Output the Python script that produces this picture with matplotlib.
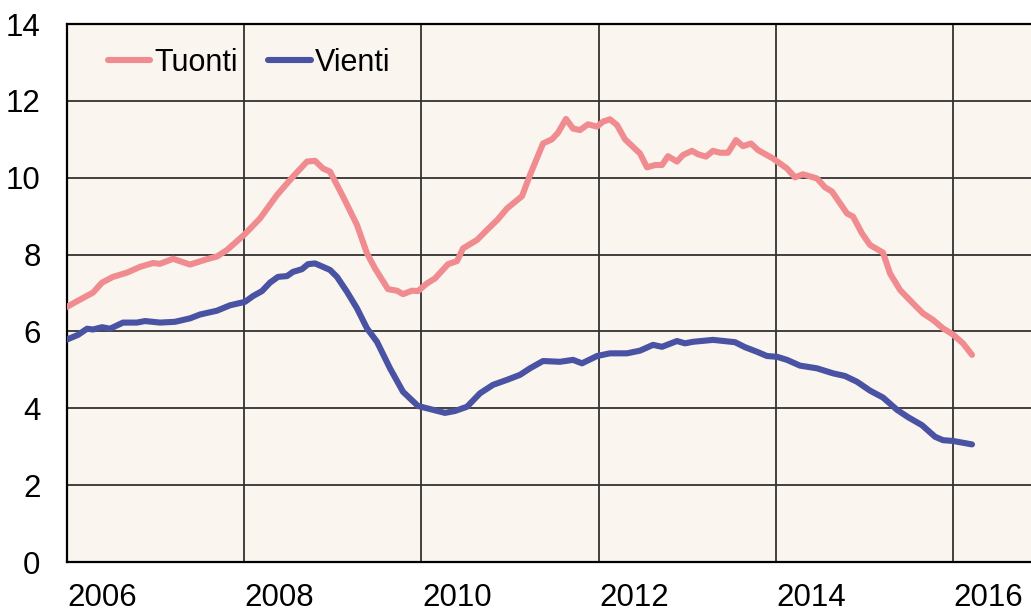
import matplotlib
matplotlib.use("Agg")
import matplotlib.pyplot as plt

plt.rcParams['font.family'] = ['Liberation Sans', 'DejaVu Sans']

# pixel-read x positions converted to decimal years
tuonti_x_px = [67, 78, 93, 102, 113, 127, 140, 153, 160, 173, 190, 207, 217, 227, 244, 260, 277, 293,
               307, 315, 323, 330, 343, 357, 367, 375, 388, 397, 403, 412, 418, 427, 435, 448,
               457, 463, 477, 487, 498, 507, 522, 530, 543, 552, 558, 566, 573, 580, 588, 597,
               603, 610, 617, 625, 640, 647, 655, 662, 668, 677, 683, 692, 698, 706, 713, 720,
               728, 736, 743, 751, 758, 773, 787, 795, 803, 817, 825, 832, 847, 853, 862, 870,
               883, 890, 900, 913, 923, 933, 943, 953, 963, 972]
tuonti = [6.64, 6.80, 7.01, 7.27, 7.42, 7.53, 7.68, 7.78, 7.76, 7.89, 7.74, 7.88, 7.95, 8.12, 8.51, 8.94,
          9.55, 10.03, 10.42, 10.44, 10.24, 10.16, 9.51, 8.77, 8.03, 7.64, 7.10, 7.06, 6.97, 7.06,
          7.05, 7.25, 7.38, 7.75, 7.83, 8.16, 8.38, 8.64, 8.92, 9.20, 9.52, 10.07, 10.89, 11.00,
          11.17, 11.53, 11.28, 11.24, 11.39, 11.33, 11.46, 11.52, 11.37, 11.00, 10.63, 10.27,
          10.33, 10.33, 10.56, 10.42, 10.59, 10.70, 10.61, 10.55, 10.70, 10.65, 10.65, 10.98,
          10.82, 10.89, 10.72, 10.50, 10.24, 10.01, 10.09, 9.98, 9.75, 9.64, 9.07, 8.99, 8.55,
          8.25, 8.05, 7.51, 7.08, 6.73, 6.47, 6.30, 6.08, 5.92, 5.69, 5.39]

vienti_x_px = [67, 78, 87, 93, 102, 110, 123, 137, 145, 160, 175, 190, 200, 217, 230, 245, 253, 262,
               270, 278, 287, 293, 302, 308, 315, 323, 330, 337, 347, 357, 367, 377, 390, 403,
               418, 430, 445, 455, 467, 480, 493, 507, 520, 530, 543, 560, 573, 582, 597, 610,
               627, 640, 653, 662, 677, 685, 693, 713, 735, 745, 757, 767, 777, 787, 800, 817,
               833, 845, 857, 870, 883, 897, 908, 922, 935, 943, 953, 972]
vienti = [5.79, 5.91, 6.07, 6.05, 6.11, 6.07, 6.23, 6.23, 6.27, 6.23, 6.25, 6.34, 6.44, 6.54, 6.68,
          6.77, 6.92, 7.05, 7.27, 7.42, 7.44, 7.55, 7.62, 7.75, 7.77, 7.68, 7.60, 7.42, 7.03, 6.60,
          6.08, 5.73, 5.04, 4.43, 4.06, 3.98, 3.88, 3.93, 4.04, 4.39, 4.61, 4.74, 4.87, 5.04, 5.23,
          5.21, 5.26, 5.17, 5.36, 5.43, 5.43, 5.50, 5.65, 5.60, 5.75, 5.69, 5.73, 5.78, 5.72, 5.59,
          5.47, 5.36, 5.34, 5.26, 5.11, 5.04, 4.91, 4.84, 4.69, 4.46, 4.28, 3.96, 3.77, 3.56, 3.26,
          3.17, 3.15, 3.06]

years = [2006, 2008, 2010, 2012, 2014, 2016]
yticks = [0, 2, 4, 6, 8, 10, 12, 14]

PX_PER_YEAR = 88.6
def to_year(px):
    return [2006 + (p - 67) / PX_PER_YEAR for p in px]

fig = plt.figure(figsize=(10.31, 6.11), dpi=100)
ax = fig.add_axes([67/1031, 1 - 562/611, 1 - 67/1031, (562 - 24)/611])
ax.set_facecolor('#FAF5EF')

for yv in yticks[1:]:
    ax.axhline(yv, color='#222222', lw=1.2, zorder=1)
for yr in years[1:]:
    ax.axvline(yr, color='#333333', lw=1.3, zorder=1)

ax.plot(to_year(tuonti_x_px), tuonti, color='#F08C90', lw=4.4, label='Tuonti',
        solid_capstyle='round', solid_joinstyle='round', zorder=3)
ax.plot(to_year(vienti_x_px), vienti, color='#4A53A3', lw=4.4, label='Vienti',
        solid_capstyle='round', solid_joinstyle='round', zorder=3)

ax.set_xlim(2006, 2006 + (1031 - 67) / PX_PER_YEAR)
ax.set_ylim(0, 14)
ax.set_yticks(yticks)
ax.set_yticklabels([str(v) for v in yticks])
ax.set_xticks([y + 0.4 for y in years])
ax.set_xticklabels([str(y) for y in years])
ax.tick_params(axis='both', length=0, labelsize=22.5)
ax.tick_params(axis='y', pad=19)
ax.tick_params(axis='x', pad=15)

for s in ['left', 'bottom', 'top']:
    ax.spines[s].set_color('black')
    ax.spines[s].set_linewidth(1.6)
ax.spines['right'].set_visible(False)

leg = ax.legend(loc='upper left', ncol=2, frameon=False, fontsize=22,
                handlelength=1.38, handletextpad=0.15, columnspacing=1.0,
                bbox_to_anchor=(0.02, 0.995), borderaxespad=0.3)

fig.savefig('out.png', dpi=100)
